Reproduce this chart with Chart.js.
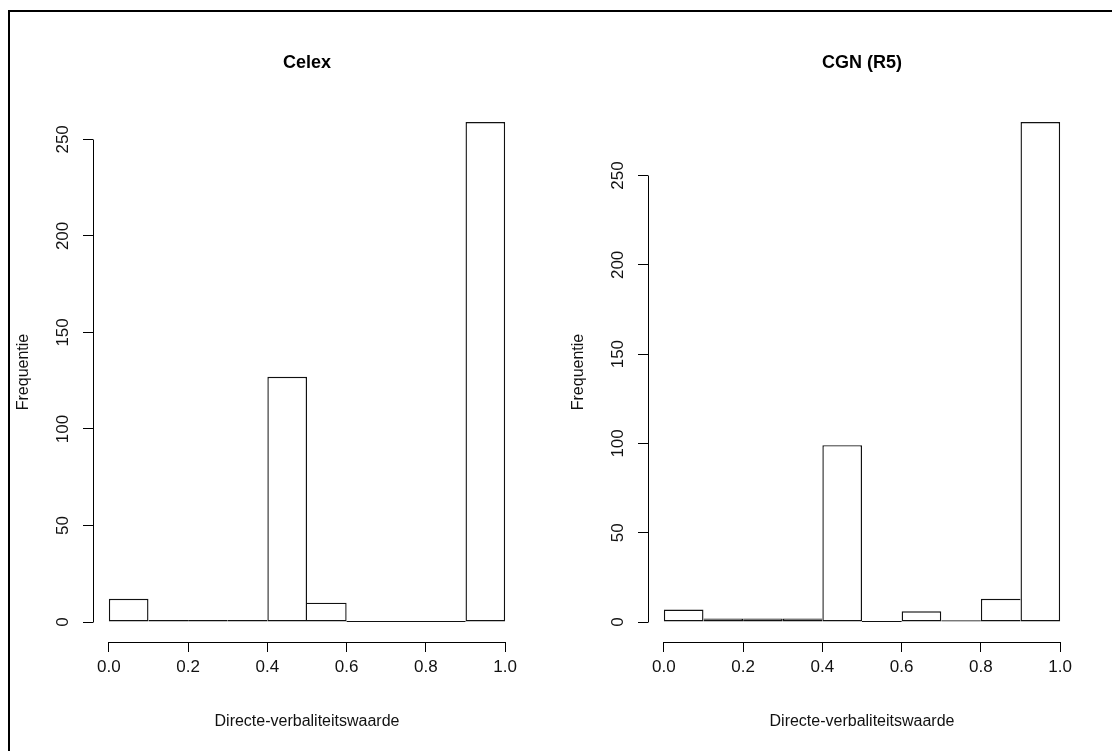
<!DOCTYPE html>
<html>
<head>
<meta charset="utf-8">
<script src="https://cdn.jsdelivr.net/npm/chart.js@4"></script>
<style>
html,body{margin:0;padding:0;background:#fff;overflow:hidden;}
#frame{position:absolute;left:8px;top:10px;width:1200px;height:800px;border-top:2px solid #000;border-left:2px solid #000;}
canvas{position:absolute;top:0;}
#celex{left:0;}
#cgn{left:555px;}
</style>
</head>
<body>
<div id="frame"></div>
<canvas id="celex" width="555" height="751"></canvas>
<canvas id="cgn" width="557" height="751"></canvas>
<script>
// histogram bins (left edges) and bin width
const binStarts=[0,0.1,0.2,0.3,0.4,0.5,0.6,0.7,0.8,0.9];
const binWidth=0.1;
const celexCounts=[12,1,1,1,127,10,0,0,0,259];
const cgnCounts=[7,2,2,2,99,0,6,1,13,280];
const xTicks=[0,0.2,0.4,0.6,0.8,1.0];
const yTicks=[0,50,100,150,200,250];
const xTitle="Directe-verbaliteitswaarde";
const yTitle="Frequentie";

const FONT="'Liberation Sans', Arial, sans-serif";

// R style axes: line only from first to last tick, plus the zero line of empty bins
const rAxes={
    id:"rAxes",
    afterDatasetsDraw(chart,args,opts){
        const ctx=chart.ctx,x=chart.scales.x,y=chart.scales.y;
        const al=p=>Math.round(p-0.5)+0.5;
        ctx.save();
        ctx.strokeStyle="#000";
        ctx.lineWidth=1;
        ctx.beginPath();
        ctx.moveTo(al(x.getPixelForValue(xTicks[0])),al(x.top));
        ctx.lineTo(al(x.getPixelForValue(xTicks[xTicks.length-1])),al(x.top));
        ctx.moveTo(al(y.right),al(y.getPixelForValue(yTicks[0])));
        ctx.lineTo(al(y.right),al(y.getPixelForValue(yTicks[yTicks.length-1])));
        ctx.stroke();
        // empty bins still show their bottom edge
        ctx.strokeStyle="#111";
        ctx.lineWidth=1.2;
        ctx.beginPath();
        const y0=Math.round(y.getPixelForValue(0))-0.5;
        opts.counts.forEach((c,i)=>{
            if(c>0) return;
            ctx.moveTo(x.getPixelForValue(binStarts[i]),y0);
            ctx.lineTo(x.getPixelForValue(binStarts[i]+binWidth),y0);
        });
        ctx.stroke();
        ctx.restore();
    }
};

function makeHist(canvasId,title,counts,padRight){
    const top=Math.max(...counts);
    return new Chart(document.getElementById(canvasId),{
        type:"bar",
        data:{
            datasets:[{
                data:counts.map((c,i)=>({x:binStarts[i]+binWidth/2,y:c})),
                backgroundColor:"#fff",
                borderColor:"#111",
                borderWidth:1.4,
                inflateAmount:0,
                barPercentage:1,
                categoryPercentage:1,
                // avoid doubled edges where neighbouring bars touch
                borderSkipped:ctx=>{
                    const i=ctx.dataIndex;
                    if(i<counts.length-1 && counts[i+1]>counts[i]) return "right";
                    if(i>0 && counts[i-1]>=counts[i]) return "left";
                    return false;
                }
            }]
        },
        options:{
            responsive:false,
            animation:false,
            events:[],
            layout:{padding:{left:0,right:padRight,top:0,bottom:0}},
            plugins:{
                legend:{display:false},
                tooltip:{enabled:false},
                title:{
                    display:true,
                    text:title,
                    fullSize:false,
                    color:"#000",
                    font:{family:FONT,size:18,weight:"bold"},
                    padding:{top:52,bottom:28.4}
                },
                rAxes:{counts:counts}
            },
            scales:{
                x:{
                    type:"linear",
                    offset:false,
                    min:-0.04,
                    max:1.04,
                    afterBuildTicks:s=>{s.ticks=xTicks.map(v=>({value:v}));},
                    afterFit:s=>{s.height=109;},
                    border:{display:false},
                    grid:{offset:false,drawOnChartArea:false,drawTicks:true,tickLength:10,color:"#000",lineWidth:1},
                    ticks:{
                        autoSkip:false,
                        maxRotation:0,
                        padding:5,
                        color:"#111",
                        font:{family:FONT,size:17},
                        callback:v=>v.toFixed(1)
                    },
                    title:{
                        display:true,
                        text:xTitle,
                        color:"#111",
                        font:{family:FONT,size:16},
                        padding:{top:0,bottom:19.4}
                    }
                },
                y:{
                    type:"linear",
                    min:-0.04*top,
                    max:1.04*top,
                    afterBuildTicks:s=>{s.ticks=yTicks.map(v=>({value:v}));},
                    afterFit:s=>{s.width=93;},
                    border:{display:false},
                    grid:{drawOnChartArea:false,drawTicks:true,tickLength:10,color:"#000",lineWidth:1},
                    ticks:{
                        autoSkip:false,
                        minRotation:90,
                        maxRotation:90,
                        crossAlign:"center",
                        padding:6,
                        color:"#111",
                        font:{family:FONT,size:17}
                    },
                    title:{
                        display:true,
                        text:yTitle,
                        color:"#111",
                        font:{family:FONT,size:16},
                        padding:{top:14.4,bottom:0}
                    }
                }
            }
        },
        plugins:[rAxes]
    });
}

makeHist("celex","Celex",celexCounts,34);
makeHist("cgn","CGN (R5)",cgnCounts,36);
</script>
</body>
</html>
